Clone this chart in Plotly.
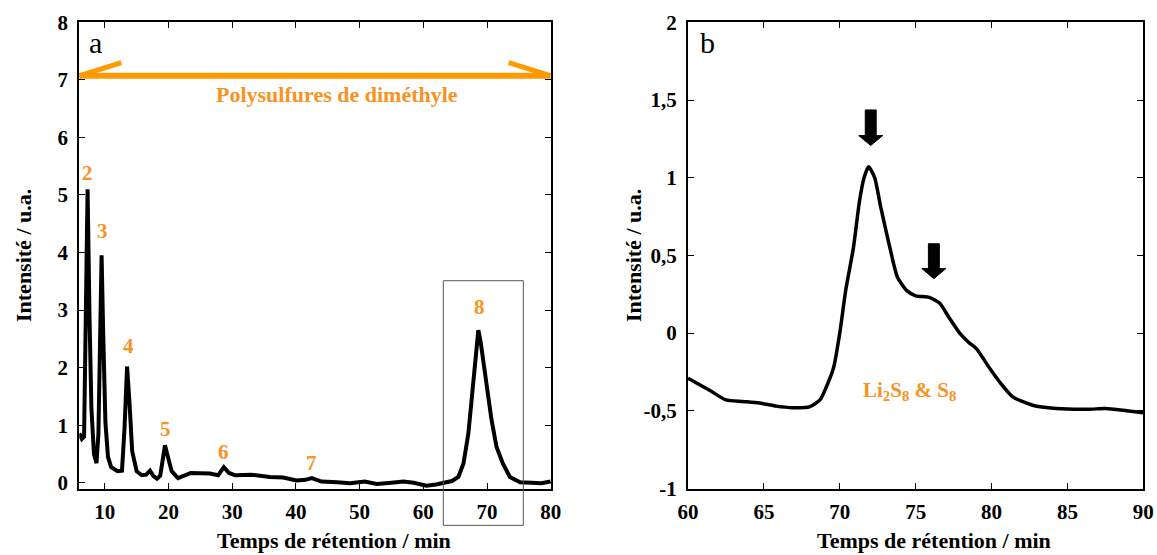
import plotly.graph_objects as go

# ---------------- data ----------------
# Panel a : full chromatogram
time_a = [6.0, 6.4, 6.75, 7.0, 7.3, 7.6, 7.9, 8.3, 8.7, 9.0, 9.25, 9.5, 9.75, 10.1, 10.5,
          11.0, 12.0, 12.7, 13.1, 13.5, 13.9, 14.3, 15.0, 15.8, 16.5, 17.1, 17.6, 18.2,
          18.7, 19.1, 19.45, 19.9, 20.5, 21.5, 22.5, 23.5, 26.5, 27.8, 28.7, 29.5, 30.5,
          33.0, 35.9, 38.0, 40.1, 41.5, 42.5, 44.0, 46.5, 48.5, 50.8, 52.7, 55.0, 56.9,
          58.5, 60.5, 62.0, 63.1, 64.5, 65.5, 66.3, 67.07, 67.85, 68.3, 68.64, 69.0,
          69.4, 69.8, 70.2, 70.7, 71.5, 72.5, 73.6, 75.2, 77.0, 78.5, 80.0]
signal_a = [0.86, 0.76, 0.8, 2.6, 5.10, 2.9, 1.3, 0.5, 0.34, 0.85, 2.7, 3.95, 2.6, 1.05, 0.45,
            0.27, 0.2, 0.21, 0.95, 2.02, 1.35, 0.55, 0.2, 0.13, 0.14, 0.21, 0.12, 0.07,
            0.12, 0.45, 0.65, 0.45, 0.2, 0.08, 0.12, 0.17, 0.16, 0.13, 0.27, 0.17, 0.13,
            0.14, 0.1, 0.09, 0.04, 0.05, 0.08, 0.02, 0.01, -0.01, 0.02, -0.02, 0.0, 0.02,
            0.0, -0.05, -0.03, -0.01, 0.03, 0.1, 0.33, 0.85, 1.72, 2.3, 2.65, 2.45,
            2.12, 1.85, 1.5, 1.1, 0.62, 0.33, 0.1, 0.01, 0.0, -0.01, 0.02]

# Panel b : zoom on peak 8
time_b = [60.0, 61.45, 62.5, 63.6, 64.7, 65.8, 66.9, 68.0, 68.7, 69.1, 69.6, 70.0, 70.4,
          70.9, 71.3, 71.6, 71.9, 72.3, 72.7, 73.3, 73.8, 74.4, 75.0, 75.9, 76.6, 77.2,
          77.9, 78.5, 79.0, 79.9, 80.5, 81.4, 82.7, 84.25, 86.4, 87.5, 88.9, 90.0]
signal_b = [-0.29, -0.37, -0.43, -0.44, -0.45, -0.47, -0.48, -0.475, -0.43, -0.35, -0.22,
            0.0, 0.28, 0.55, 0.85, 1.0, 1.07, 1.0, 0.81, 0.55, 0.36, 0.275, 0.24, 0.23,
            0.19, 0.10, 0.0, -0.06, -0.10, -0.23, -0.31, -0.41, -0.464, -0.485, -0.49,
            -0.485, -0.50, -0.513]

# Peak labels of panel a
peak_names = ["2", "3", "4", "5", "6", "7", "8"]
peak_label_x = [7.21, 9.69, 13.65, 19.53, 28.67, 42.48, 68.75]
peak_label_y = [5.38, 4.37, 2.37, 0.93, 0.53, 0.34, 3.05]

# Tick labels
xticks_a = [10, 20, 30, 40, 50, 60, 70, 80]
yticks_a = [0, 1, 2, 3, 4, 5, 6, 7, 8]
xticks_b = [60, 65, 70, 75, 80, 85, 90]
yticks_b = [-1, -0.5, 0, 0.5, 1, 1.5, 2]
yticktext_b = ["-1", "-0,5", "0", "0,5", "1", "1,5", "2"]

# Annotation geometry
poly_level = 7.07          # orange range line
poly_range = [6, 80]
poly_barb = [6.6, 7.30]    # barb length (x) and barb end y
box_x = [63.14, 75.7]      # rectangle around peak 8
box_y = [-0.74, 3.51]
arrow_x = [72.04, 76.2]    # black arrows panel b
arrow_top = [1.436, 0.575]
arrow_head = [1.271, 0.415]
arrow_tip = [1.207, 0.35]

YR_A = [-0.1, 8]
YR_B = [-1, 2]

# ---------------- figure ----------------
ORANGE_LINE = "#FF9A00"
ORANGE_TXT = "#F7931E"
FONT = "Liberation Serif"

W, H = 1157, 555
fx = lambda px: px / W
fy = lambda py: 1 - py / H

fig = go.Figure()
fig.add_trace(go.Scatter(x=time_a, y=signal_a, mode="lines",
                         line=dict(color="black", width=4), xaxis="x", yaxis="y",
                         showlegend=False, hoverinfo="skip"))
fig.add_trace(go.Scatter(x=time_b, y=signal_b, mode="lines",
                         line=dict(color="black", width=3.5, shape="spline", smoothing=0.6),
                         xaxis="x2", yaxis="y2", showlegend=False, hoverinfo="skip"))

tickfont = dict(family=FONT, size=21, color="black", weight="bold")
common = dict(showline=True, linewidth=2, linecolor="black", mirror="ticks",
              ticks="inside", ticklen=6, tickwidth=1, tickcolor="black",
              showgrid=False, zeroline=False, tickfont=tickfont, fixedrange=True,
              automargin=False, ticklabeloverflow="allow")

fig.update_layout(
    width=W, height=H, margin=dict(l=0, r=0, t=0, b=0, pad=0),
    paper_bgcolor="white", plot_bgcolor="white",
    xaxis=dict(domain=[fx(79.3), fx(550.7)], range=[6, 80], tickvals=xticks_a,
               ticklabelstandoff=3, anchor="y", **common),
    yaxis=dict(domain=[fy(488.5), fy(22.3)], range=YR_A, tickvals=yticks_a,
               ticklabelstandoff=5, anchor="x", **common),
    xaxis2=dict(domain=[fx(688), fx(1143.3)], range=[60, 90], tickvals=xticks_b,
                ticklabelstandoff=3, anchor="y2", **common),
    yaxis2=dict(domain=[fy(488.5), fy(22.3)], range=YR_B, tickvals=yticks_b,
                ticktext=yticktext_b, ticklabelstandoff=5, anchor="x2", **common),
)

shapes = []
# orange range line with half-arrow barbs
shapes.append(dict(type="line", xref="x", yref="y", x0=poly_range[0], x1=poly_range[1],
                   y0=poly_level, y1=poly_level, line=dict(color=ORANGE_LINE, width=6)))
shapes.append(dict(type="line", xref="x", yref="y", x0=poly_range[0], y0=poly_level,
                   x1=poly_range[0] + poly_barb[0], y1=poly_barb[1],
                   line=dict(color=ORANGE_LINE, width=5)))
shapes.append(dict(type="line", xref="x", yref="y", x0=poly_range[1], y0=poly_level,
                   x1=poly_range[1] - poly_barb[0], y1=poly_barb[1],
                   line=dict(color=ORANGE_LINE, width=5)))
# box around peak 8 (extends below the axis)
frac = lambda v: (v - YR_A[0]) / (YR_A[1] - YR_A[0])
shapes.append(dict(type="rect", xref="x", yref="y domain", x0=box_x[0], x1=box_x[1],
                   y0=frac(box_y[0]), y1=frac(box_y[1]),
                   line=dict(color="#555555", width=1), fillcolor="rgba(0,0,0,0)"))
# black down arrows on panel b
w_shaft, w_head = 0.36, 0.79
for c, t, h, p in zip(arrow_x, arrow_top, arrow_head, arrow_tip):
    path = (f"M {c - w_shaft},{t} L {c + w_shaft},{t} L {c + w_shaft},{h} "
            f"L {c + w_head},{h} L {c},{p} L {c - w_head},{h} L {c - w_shaft},{h} Z")
    shapes.append(dict(type="path", xref="x2", yref="y2", path=path,
                       fillcolor="black", line=dict(color="black", width=1)))
fig.update_layout(shapes=shapes)

C = dict(xanchor="center", yanchor="middle", showarrow=False)
ann = []
for name, x, y in zip(peak_names, peak_label_x, peak_label_y):
    ann.append(dict(x=x, y=y, xref="x", yref="y", text=name, **C,
                    font=dict(family=FONT, size=21, color=ORANGE_TXT, weight="bold")))
ann.append(dict(x=46.5, y=6.74, xref="x", yref="y", text="Polysulfures de diméthyle", **C,
                font=dict(family=FONT, size=22, color=ORANGE_TXT, weight="bold")))
ann.append(dict(x=74.6, y=-0.37, xref="x2", yref="y2",
                text="Li<sub>2</sub>S<sub>8</sub> &amp; S<sub>8</sub>", **C,
                font=dict(family=FONT, size=21, color=ORANGE_TXT, weight="bold")))
# panel letters
ann.append(dict(x=fx(95.5), y=fy(43), xref="paper", yref="paper", text="a", **C,
                font=dict(family=FONT, size=30, color="black")))
ann.append(dict(x=fx(707), y=fy(43), xref="paper", yref="paper", text="b", **C,
                font=dict(family=FONT, size=30, color="black")))
# axis titles
title_font = dict(family=FONT, size=22, color="black", weight="bold")
for xc in (334, 934):
    ann.append(dict(x=fx(xc), y=fy(540), xref="paper", yref="paper",
                    text="Temps de rétention / min", **C, font=title_font))
for xc in (24, 634):
    ann.append(dict(x=fx(xc), y=fy(256), xref="paper", yref="paper", textangle=-90,
                    text="Intensité / u.a.", **C, font=title_font))
fig.update_layout(annotations=ann)

# remove the default 8px page margin so the figure fills the window exactly
fig.write_html("out.html", config={"displayModeBar": False},
               post_script="document.body.style.margin='0px';")
